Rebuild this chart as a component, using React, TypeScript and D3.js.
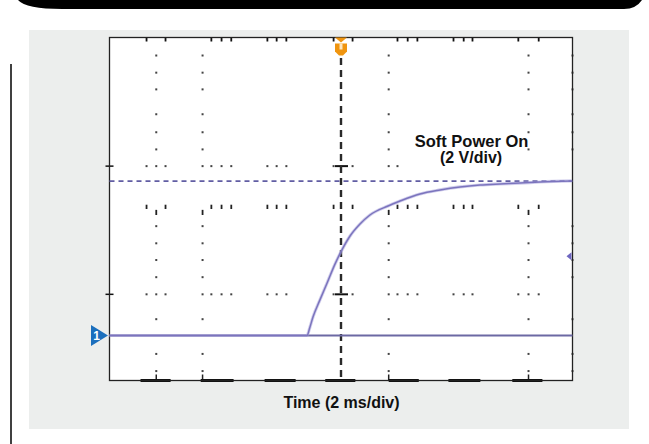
import * as d3 from 'd3'

// time axis: 2 ms/div, 10 divisions, trigger at centre
const timeRange = [-10, 10]
// voltage axis: 2 V/div, 8 divisions
const voltRange = [-2.1, 13.9]

// channel 1 trace (ms, V)
const traceT = [-10, -1.47, -1.34, -1.21, -0.91, -0.6, -0.26, 0.04, 0.39, 0.82, 1.25, 2.03, 2.55, 3.41, 4.28, 5.14, 6.0, 6.87, 7.73, 8.6, 9.98]
const traceV = [0, 0, 0.4, 0.86, 1.66, 2.45, 3.33, 3.99, 4.64, 5.2, 5.62, 6.04, 6.27, 6.6, 6.79, 6.93, 7.02, 7.07, 7.11, 7.16, 7.21]
const groundLevel = 0
const refLevel = 7.2
const levelMarker = 3.7

// graticule remains, in divisions (x 0..10, y 0..8 from top)
const colDots = [1.01, 2.01, 6.03, 9.05]
const rowDots = [0.42, 0.82, 1.21, 1.79, 2.21, 2.61, 4.4, 4.8, 5.19, 5.59, 6.57, 7.38]
const minorTicks = [0.8, 1.21, 2.2, 2.42, 2.63, 3.41, 3.61, 3.82, 4.84, 5.25, 6.22, 6.44, 6.65, 7.43, 7.65, 7.84, 8.83, 9.27]
const majorRows = [3, 5.99]
const bottomBars = [[0.67, 1.32], [1.97, 2.68], [3.35, 4.02], [4.66, 5.31], [6.03, 6.68], [7.32, 8.01], [8.7, 9.35]]

const titleLines = ['Soft Power On', '(2 V/div)']
const xLabel = 'Time (2 ms/div)'

const W = 649
const H = 444
const left = 109.5
const right = 572.5
const top = 37.5
const bottom = 380.5

const font = '"Liberation Sans", Arial, Helvetica, sans-serif'
const dotColor = '#444'
const traceColor = '#7b74bd'

export default function App() {
  const xd = d3.scaleLinear().domain([0, 10]).range([left, right])
  const yd = d3.scaleLinear().domain([0, 8]).range([top, bottom])
  const x = d3.scaleLinear().domain(timeRange).range([left, right])
  const y = d3.scaleLinear().domain(voltRange).range([bottom, top])

  const pts = traceT.map((t, i) => [t, traceV[i]] as [number, number])
  const line = d3
    .line<[number, number]>()
    .curve(d3.curveMonotoneX)
    .x((d) => x(d[0]))
    .y((d) => y(d[1]))

  const cx = x(0)
  const rowXs = [...minorTicks, ...colDots].sort((a, b) => a - b)

  const dot = (px: number, py: number, k: string) => (
    <rect key={k} x={px - 1} y={py - 1} width={2} height={2} fill={dotColor} />
  )

  return (
    <div style={{ position: 'absolute', left: 0, top: 0 }}>
      <svg width={W} height={H} viewBox={`0 0 ${W} ${H}`} style={{ display: 'block', background: '#fff' }}>
        {/* header band */}
        <path d="M18,0 H649 V9 H62 Q26,9 18,0 Z" fill="#000" />
        <path d="M624,9 Q636,9 642,0 H649 V9 Z" fill="#fff" />
        <line x1={11} x2={11} y1={64} y2={H} stroke="#000" strokeWidth={1.5} />

        {/* panel */}
        <rect x={29} y={30} width={600} height={399} fill="#eceeed" />
        <rect x={left} y={top} width={right - left} height={bottom - top} fill="#fff" />

        {/* graticule columns */}
        {colDots.map((c) =>
          rowDots.map((r) => dot(xd(c), yd(r), `c${c}-${r}`))
        )}
        {[...rowDots, 7.78].map((r) => dot(right, yd(r), `rb${r}`))}

        {/* major rows */}
        {majorRows.map((r, ri) =>
          rowXs
            .filter((c) => ri > 0 || c < 6.3)
            .map((c) => dot(xd(c), yd(r), `m${r}-${c}`))
        )}
        {majorRows.map((r) => (
          <g key={`mk${r}`}>
            <line x1={left - 4} x2={left + 4} y1={yd(r)} y2={yd(r)} stroke="#111" strokeWidth={1.5} />
            <line x1={cx - 6} x2={cx + 7} y1={yd(r)} y2={yd(r)} stroke="#111" strokeWidth={2} />
          </g>
        ))}

        {/* top edge ticks */}
        {minorTicks.map((c) => (
          <line key={`t${c}`} x1={xd(c)} x2={xd(c)} y1={top} y2={top + 4} stroke="#111" strokeWidth={1.8} />
        ))}
        {/* centre horizontal axis ticks */}
        {minorTicks.map((c) => (
          <line key={`h${c}`} x1={xd(c)} x2={xd(c)} y1={yd(3.9)} y2={yd(4.0)} stroke="#222" strokeWidth={1.8} />
        ))}
        {colDots.map((c) => (
          <line key={`hc${c}`} x1={xd(c)} x2={xd(c)} y1={yd(4.02)} y2={yd(4.14)} stroke="#222" strokeWidth={1.8} />
        ))}
        {/* bottom edge */}
        {colDots.map((c) => (
          <g key={`b${c}`}>
            {dot(xd(c), yd(7.78), `bd${c}`)}
            <line x1={xd(c)} x2={xd(c)} y1={yd(7.86)} y2={bottom} stroke="#222" strokeWidth={1.5} />
          </g>
        ))}
        {bottomBars.map(([a, b]) => (
          <rect key={`bb${a}`} x={xd(a)} y={bottom - 1.5} width={xd(b) - xd(a)} height={3} fill="#111" />
        ))}

        {/* plot frame */}
        <rect x={left} y={top} width={right - left} height={bottom - top} fill="none" stroke="#222" strokeWidth={1.3} />

        {/* trigger position */}
        <line x1={cx} x2={cx} y1={58} y2={bottom - 2} stroke="#2a2a2a" strokeWidth={2.4} strokeDasharray="7,5" />
        <path d={`M${cx - 6},${top} L${cx + 6},${top} L${cx},${top + 5} Z`} fill="#f0950f" />
        <path
          d={`M${cx - 6},${top + 6} H${cx + 6} V${top + 14} L${cx + 2},${top + 18} H${cx - 2} L${cx - 6},${top + 14} Z`}
          fill="#f0950f"
        />
        <rect x={cx - 1.5} y={top + 6} width={3} height={6} fill="#fde6c0" />

        {/* reference level */}
        <line
          x1={left}
          x2={right}
          y1={y(refLevel)}
          y2={y(refLevel)}
          stroke="#615da3"
          strokeWidth={1.7}
          strokeDasharray="5,4"
        />
        {/* ground line */}
        <line x1={left} x2={right} y1={y(groundLevel)} y2={y(groundLevel)} stroke="#6c69a3" strokeWidth={2} />

        {/* trace */}
        <path d={line(pts) ?? ''} fill="none" stroke="#aaa4dc" strokeWidth={3.2} opacity={0.55} />
        <path d={line(pts) ?? ''} fill="none" stroke={traceColor} strokeWidth={1.5} />

        {/* level marker */}
        <path
          d={`M${right - 1},${y(levelMarker) - 4} L${right - 6},${y(levelMarker)} L${right - 1},${y(levelMarker) + 4} Z`}
          fill="#6e66c0"
        />

        {/* channel marker */}
        <path d={`M91,${y(groundLevel) - 10.5} L108,${y(groundLevel)} L91,${y(groundLevel) + 10.5} Z`} fill="#1b6fbd" />
        <text x={96.5} y={y(groundLevel) + 4.5} fill="#fff" fontFamily={font} fontWeight="bold" fontSize={12} textAnchor="middle">
          1
        </text>

        {/* labels */}
        <text x={471.5} y={147} fontFamily={font} fontWeight="bold" fontSize={16.5} textAnchor="middle" fill="#111">
          {titleLines[0]}
        </text>
        <text x={471} y={163} fontFamily={font} fontWeight="bold" fontSize={16} textAnchor="middle" fill="#111">
          {titleLines[1]}
        </text>
        <text x={341.5} y={408} fontFamily={font} fontWeight="bold" fontSize={16} textAnchor="middle" fill="#111">
          {xLabel}
        </text>
      </svg>
    </div>
  )
}
